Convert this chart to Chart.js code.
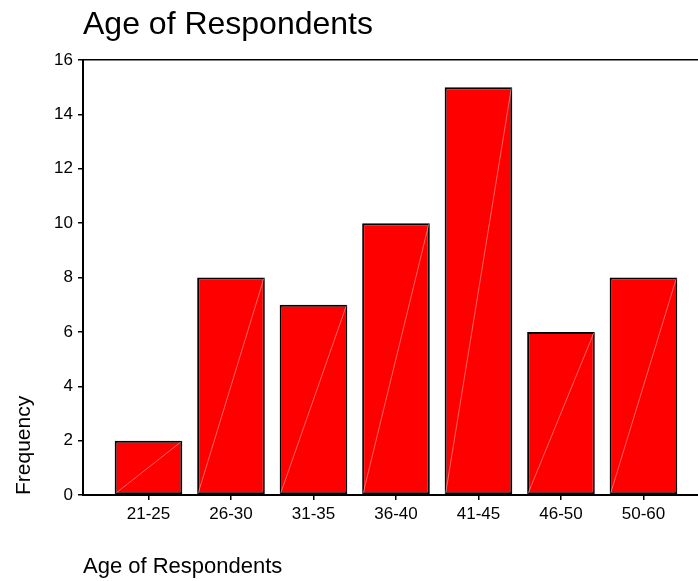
<!DOCTYPE html>
<html>
<head>
<meta charset="utf-8">
<title>Age of Respondents</title>
<script src="https://cdn.jsdelivr.net/npm/chart.js@4.4.1/dist/chart.umd.min.js"></script>
<style>
    html, body { margin: 0; padding: 0; background: #fff; }
    #wrap { width: 698px; height: 581px; position: relative; }
</style>
</head>
<body>
<div id="wrap"><canvas id="chart"></canvas></div>
<script>
// Data
const ageGroups = ['21-25', '26-30', '31-35', '36-40', '41-45', '46-50', '50-60'];
const frequency = [2, 8, 7, 10, 15, 6, 8];
const yTicks = [0, 2, 4, 6, 8, 10, 12, 14, 16];

const FONT = "'Liberation Sans', Arial, Helvetica, sans-serif";

// faint diagonal line inside every bar, like the original export
const barDiagonals = {
    id: 'barDiagonals',
    afterDatasetsDraw(chart) {
        const ctx = chart.ctx;
        const meta = chart.getDatasetMeta(0);
        ctx.save();
        ctx.strokeStyle = 'rgba(255, 190, 190, 0.75)';
        ctx.lineWidth = 0.7;
        meta.data.forEach(bar => {
            const half = bar.width / 2;
            ctx.beginPath();
            ctx.moveTo(bar.x - half + 1, bar.base - 1);
            ctx.lineTo(bar.x + half - 1, bar.y + 1);
            ctx.stroke();
        });
        ctx.restore();
    }
};

const ctx = document.getElementById('chart').getContext('2d');
new Chart(ctx, {
    type: 'bar',
    data: {
        datasets: [{
            data: ageGroups.map((g, i) => ({ x: i, y: frequency[i] })),
            backgroundColor: '#ff0000',
            borderColor: '#000000',
            borderWidth: 2,
            borderSkipped: false,
            barPercentage: 0.82,
            categoryPercentage: 1
        }]
    },
    options: {
        responsive: true,
        maintainAspectRatio: false,
        animation: false,
        layout: { padding: 0 },
        plugins: {
            legend: { display: false },
            tooltip: { enabled: false },
            title: {
                display: true,
                text: 'Age of Respondents',
                align: 'start',
                fullSize: false,
                color: '#000',
                font: { family: FONT, size: 32, weight: 'normal', lineHeight: 1.2 },
                padding: { top: 6, bottom: 15.6 }
            }
        },
        scales: {
            x: {
                type: 'linear',
                offset: false,
                min: -0.794,
                max: 6.661,
                afterFit: (scale) => { scale.height = 86; },
                afterBuildTicks: (scale) => {
                    scale.ticks = ageGroups.map((g, i) => ({ value: i }));
                },
                ticks: {
                    includeBounds: false,
                    color: '#000',
                    padding: 4,
                    font: { family: FONT, size: 17 },
                    callback: (v) => ageGroups[v] ?? ''
                },
                grid: {
                    offset: false,
                    drawOnChartArea: false,
                    color: '#000',
                    tickLength: 5,
                    lineWidth: 1.5
                },
                border: { color: '#000', width: 2 },
                title: {
                    display: true,
                    text: 'Age of Respondents',
                    align: 'start',
                    color: '#000',
                    font: { family: FONT, size: 22, lineHeight: 1.2 },
                    padding: { top: 0, bottom: 1 }
                }
            },
            y: {
                min: 0,
                max: 16,
                afterFit: (scale) => { scale.width = 83; },
                afterBuildTicks: (scale) => {
                    scale.ticks = yTicks.map(v => ({ value: v }));
                },
                ticks: {
                    color: '#000',
                    padding: 5,
                    font: { family: FONT, size: 17 }
                },
                grid: {
                    color: (c) => (c.tick && c.tick.value === 16) ? '#000' : 'rgba(0,0,0,0)',
                    tickColor: '#000',
                    tickLength: 5,
                    lineWidth: 1.5
                },
                border: { color: '#000', width: 2 },
                title: {
                    display: true,
                    text: 'Frequency',
                    align: 'start',
                    color: '#000',
                    font: { family: FONT, size: 21, lineHeight: 1.2 },
                    padding: { top: 12, bottom: 0 }
                }
            }
        }
    },
    plugins: [barDiagonals]
});
</script>
</body>
</html>
